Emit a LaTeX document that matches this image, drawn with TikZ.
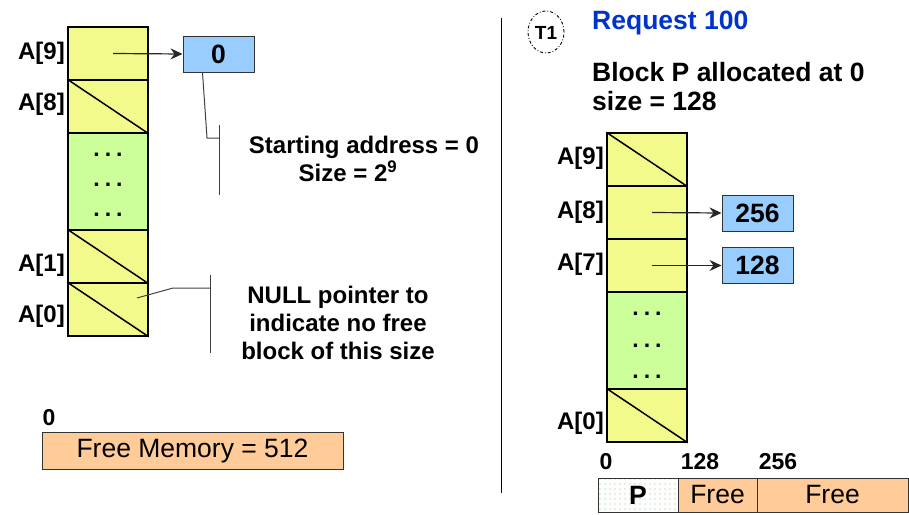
\documentclass[tikz,border=0pt]{standalone}
\usepackage{fontspec}
\setmainfont{Liberation Sans}
\usetikzlibrary{arrows.meta,patterns.meta,calc}
\definecolor{cyel}{RGB}{242,250,140}
\definecolor{cgrn}{RGB}{204,255,153}
\definecolor{cblu}{RGB}{153,204,255}
\definecolor{corg}{RGB}{255,204,153}
\definecolor{creq}{RGB}{0,51,204}
\newcommand\fsA{\fontsize{24}{28}\selectfont\bfseries}
\newcommand\fsB{\fontsize{26.5}{29}\selectfont\bfseries}
\newcommand\fsC{\fontsize{26.5}{29}\selectfont}
\newcommand\fsD{\fontsize{23}{26}\selectfont\bfseries}
\newcommand\tdots{.\hspace{5pt}.\hspace{5pt}.}
\begin{document}
\begin{tikzpicture}[x=1pt,y=-1pt,
  cellbox/.style={draw=black,line width=1.5pt,fill=cyel,minimum width=80pt,inner sep=0pt},
  greenbox/.style={draw=black,line width=1.5pt,fill=cgrn,minimum width=80pt,minimum height=97pt,inner sep=0pt},
  ptrbox/.style={draw=black!80,line width=1pt,fill=cblu,minimum width=71pt,minimum height=36pt,inner sep=0pt,font=\fsB},
  lbl/.style={anchor=east,font=\fsA,inner sep=2pt},
  annot/.style={font=\fsA,align=center,inner sep=0pt},
  memlbl/.style={font=\fsD,inner sep=0pt},
  ptr/.style={draw=black!85,line width=1.2pt,-{Stealth[length=12pt,width=11pt,inset=4pt]}},
  brk/.style={draw=black!75,line width=1pt},
  dots/.style={font=\fsD,inner sep=0pt}
]
\useasboundingbox (0,0) rectangle (909,514);

% ---------- left column ----------
\node[cellbox,minimum height=53pt] (l9) at (108,53.5) {};
\node[cellbox,minimum height=53pt] (l8) at (108,106.5) {};
\node[greenbox] (lg) at (108,181.5) {};
\node[cellbox,minimum height=53pt] (l1) at (108,256.5) {};
\node[cellbox,minimum height=53pt] (l0) at (108,309.5) {};
\draw[line width=1.5pt] (l8.north west) -- (l8.south east);
\draw[line width=1.5pt] (l1.north west) -- (l1.south east);
\draw[line width=1.5pt] (l0.north west) -- (l0.south east);
\node[dots] (ld1) at (108,155) {\tdots};
\node[dots] (ld2) at (108,185) {\tdots};
\node[dots] (ld3) at (108,215) {\tdots};

\node[lbl] (la9) at (67,53) {A[9]};
\node[lbl] (la8) at (67,104) {A[8]};
\node[lbl] (la1) at (67,265) {A[1]};
\node[lbl] (la0) at (67,316) {A[0]};

\node[ptrbox] (b0) at (218.5,54) {0};
\draw[ptr] ([xshift=5pt]l9.center) -- (b0.west);

% starting address annotation
\coordinate (s1) at ($(b0.south west)+(20,0)$);
\coordinate (s2) at (207,138);
\coordinate (s3) at (219,138);
\coordinate (s4) at (219,125);
\coordinate (s5) at (219,195);
\draw[brk] (s1) -- (s2) -- (s3);
\draw[brk] (s4) -- (s5);
\node[annot] (sa) at (364,159) {Starting address = 0\\Size = 2\textsuperscript{9}\hspace*{32pt}};

% NULL annotation
\coordinate (n1) at (137,298);
\coordinate (n2) at (173,288);
\coordinate (n3) at (210,288);
\coordinate (n4) at (210,275);
\coordinate (n5) at (210,353);
\draw[brk] (n1) -- (n2) -- (n3);
\draw[brk] (n4) -- (n5);
\node[annot] (na) at (338,323) {NULL pointer to\\indicate no free\\block of this size};

% free memory bar
\node[memlbl] (m0) at (49,418) {0};
\node[draw=black!80,line width=1pt,fill=corg,minimum width=301pt,minimum height=37pt,inner sep=0pt,font=\fsC] (fm) at (192.5,450.5) {Free Memory = 512};

% divider
\draw[line width=1pt] (501,18) -- (501,493);

% ---------- right side ----------
\draw[line width=0.9pt,dash pattern=on 3pt off 2pt on 0.8pt off 2pt] (546,32) ellipse [x radius=18pt,y radius=21pt];
\node[font=\fontsize{19}{22}\selectfont\bfseries,inner sep=0pt] (t1) at (546,33) {T1};
\node[anchor=west,font=\fsB,text=creq,inner sep=0pt] (req) at (592,23) {Request 100};
\node[anchor=west,font=\fsB,inner sep=0pt] (blk) at (592,72) {Block P allocated at 0};
\node[anchor=west,font=\fsB,inner sep=0pt] (sz) at (592,101) {size = 128};

\node[cellbox,minimum height=53pt] (r9) at (647,159.5) {};
\node[cellbox,minimum height=53pt] (r8) at (647,212.5) {};
\node[cellbox,minimum height=53pt] (r7) at (647,265.5) {};
\node[greenbox] (rg) at (647,340.5) {};
\node[cellbox,minimum height=53pt] (r0) at (647,415.5) {};
\draw[line width=1.5pt] (r9.north west) -- (r9.south east);
\draw[line width=1.5pt] (r0.north west) -- (r0.south east);
\node[dots] (rd1) at (647,314) {\tdots};
\node[dots] (rd2) at (647,346) {\tdots};
\node[dots] (rd3) at (647,377) {\tdots};

\node[lbl] (ra9) at (606,158) {A[9]};
\node[lbl] (ra8) at (606,212) {A[8]};
\node[lbl] (ra7) at (606,264) {A[7]};
\node[lbl] (ra0) at (606,423) {A[0]};

\node[ptrbox] (b256) at (757.5,213) {256};
\node[ptrbox] (b128) at (757.5,265.5) {128};
\draw[ptr] ([xshift=5pt]r8.center) -- (b256.west);
\draw[ptr] ([xshift=5pt]r7.center) -- (b128.west);

% memory bar right
\node[memlbl] (q0) at (606,462) {0};
\node[memlbl] (q128) at (700,462) {128};
\node[memlbl] (q256) at (778,462) {256};
\node[draw=black!80,line width=1pt,pattern={Dots[distance=5pt,radius=0.7pt]},pattern color=green!70!black!60,minimum width=80pt,minimum height=34pt,inner sep=0pt] (pc) at (638,495) {};
\node[font=\fsB,inner sep=0pt] (pl) at (638,495) {P};
\node[draw=black!80,line width=1pt,fill=corg,minimum width=79pt,minimum height=34pt,inner sep=0pt,font=\fsC] (f1) at (717.5,495) {Free};
\node[draw=black!80,line width=1pt,fill=corg,minimum width=151pt,minimum height=34pt,inner sep=0pt,font=\fsC] (f2) at (832.5,495) {Free};
\end{tikzpicture}
\end{document}
